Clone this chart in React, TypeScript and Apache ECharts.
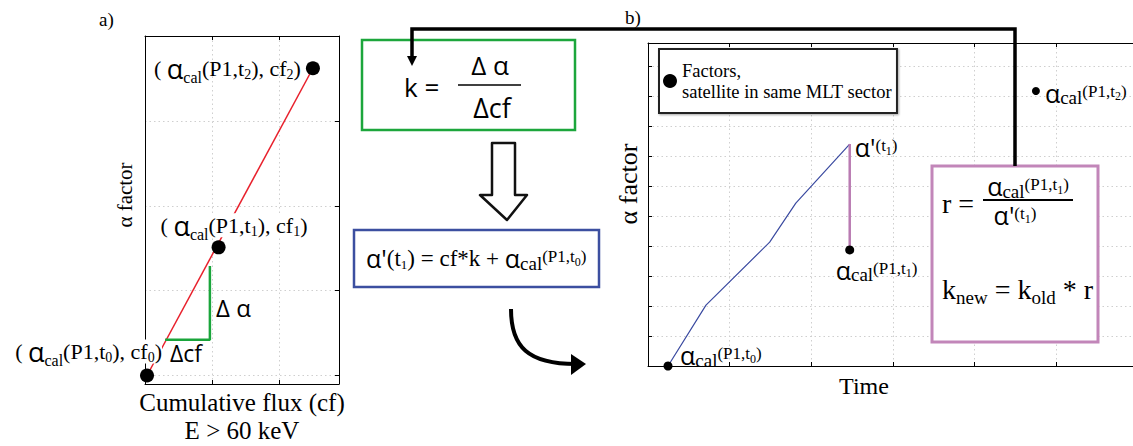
import React, { useEffect, useRef } from 'react';
import * as echarts from 'echarts';

const SERIF = "'Liberation Serif', 'Times New Roman', serif";
const SANS = "'Open Sans', 'DejaVu Sans', sans-serif";

// ---------- Panel a) : alpha factor vs cumulative flux ----------
const cfValues = [0.03, 1.1, 2.51];
const alphaValues = [0, 1.51, 3.62];
const deltaCf = [0.3, 0.97, 0.97];
const deltaAlpha = [0.42, 0.42, 1.29];
const leftXRange = [0, 2.9];
const leftYRange = [-0.1, 4];
const leftPointLabels = [
  '{M|( }{A|α}{C|cal}{M|(P1,t}{D|0}{M|), cf}{D|0}{M|)}',
  '{M|( }{A|α}{C|cal}{M|(P1,t}{D|1}{M|), cf}{D|1}{M|)}',
  '{M|( }{A|α}{C|cal}{M|(P1,t}{D|2}{M|), cf}{D|2}{M|)}',
];
const leftLabelAlign = ['right', 'left', 'right'];
const leftLabelOffset = [[15, -24], [-58, -22], [-12, 0]];
const leftLabelBg = ['#fff', '#fff', 'transparent'];

// ---------- Panel b) : alpha factor vs time ----------
const timeValues = [0.245, 0.71, 1.49, 1.81, 2.47];
const alphaPrimeValues = [0, 2.03, 4.13, 5.43, 7.4];
const factorTimes = [0.245, 2.47, 4.75];
const factorAlpha = [0, 3.87, 9.17];
const factorSizes = [9, 9, 8];
const rightPointLabels = [
  '{A|α}{C|cal}{S|(P1,t}{E|0}{S|)}',
  '{A|α}{C|cal}{S|(P1,t}{E|1}{S|)}',
  '{A|α}{C|cal}{S|(P1,t}{E|2}{S|)}',
];
const rightLabelOffset = [[12, -11], [-14, 20], [9, 2]];
const alphaPrimeLabel = '{A|α\'}{S|(t}{E|1}{S|)}';
const rightXRange = [0, 6];
const rightYRange = [0, 10.77];
const legendName = 'Factors,\nsatellite in same MLT sector';

function tok(fontFamily: string, fontSize: number, lh: number, shift = 0) {
  const s: any = { fontFamily, fontSize, lineHeight: lh, color: '#000', fill: '#000' };
  if (shift > 0) s.padding = [shift * 2, 0, 0, 0];
  else if (shift < 0) s.padding = [0, 0, -shift * 2, 0];
  return s;
}

const leftRich = {
  M: tok(SERIF, 22, 24),
  A: tok(SANS, 27, 24),
  C: tok(SERIF, 16, 24, 9),
  D: tok(SERIF, 14, 24, 6),
};
const rightRich = {
  A: tok(SANS, 25, 30),
  C: tok(SERIF, 19, 30, 5),
  S: tok(SERIF, 17, 30, -1.5),
  E: tok(SERIF, 12, 30, 3.5),
  M: tok(SERIF, 23, 30),
  D: tok(SERIF, 13, 30, 6),
};
const kRich = {
  K: tok(SERIF, 28, 34),
  N: tok(SERIF, 19, 34, 8),
};

const dotted = { show: true, lineStyle: { color: '#cfcfcf', type: [1.5, 3] as any, width: 1 } };
const axisLine = { show: true, onZero: false, lineStyle: { color: '#000', width: 1 } };
const tickIn = { show: true, inside: true, length: 4, lineStyle: { color: '#000', width: 1 } };
const noTick = { show: false };

export default function App() {
  const ref = useRef<HTMLDivElement>(null);
  useEffect(() => {
    if (!ref.current) return;
    const chart = echarts.init(ref.current, null, { renderer: 'svg' });

    const graphic: any[] = [
      { type: 'text', x: 99, y: 19, z: 100, style: { text: 'a)', fontFamily: SERIF, fontSize: 19, fill: '#000', verticalAlign: 'middle' } },
      { type: 'text', x: 625, y: 17, z: 100, style: { text: 'b)', fontFamily: SERIF, fontSize: 19, fill: '#000', verticalAlign: 'middle' } },
      { type: 'text', x: 125, y: 195, rotation: Math.PI / 2, z: 100, style: { text: 'α factor', fontFamily: SERIF, fontSize: 21, fill: '#000', align: 'center', verticalAlign: 'middle' } },
      { type: 'text', x: 628, y: 184, rotation: Math.PI / 2, z: 100, style: { text: 'α factor', fontFamily: SERIF, fontSize: 26, fill: '#000', align: 'center', verticalAlign: 'middle' } },
      { type: 'text', x: 864, y: 386, z: 100, style: { text: 'Time', fontFamily: SERIF, fontSize: 24, fill: '#000', align: 'center', verticalAlign: 'middle' } },
      // delta labels in panel a
      { type: 'text', x: 216, y: 307, z: 100, style: { text: 'Δ α', fontFamily: SANS, fontSize: 24, fill: '#000', verticalAlign: 'middle' } },
      { type: 'text', x: 170, y: 353, z: 100, style: { text: 'Δcf', fontFamily: SANS, fontSize: 23, fill: '#000', verticalAlign: 'middle' } },
      // green box
      { type: 'rect', z: 100, shape: { x: 362, y: 40, width: 213, height: 90 }, style: { fill: '#fff', stroke: '#1ca63c', lineWidth: 2.5 } },
      { type: 'text', x: 404, y: 87, z: 101, style: { text: 'k =', fontFamily: SANS, fontSize: 26, fill: '#000', verticalAlign: 'middle' } },
      { type: 'text', x: 490, y: 65, z: 101, style: { text: 'Δ α', fontFamily: SANS, fontSize: 26, fill: '#000', align: 'center', verticalAlign: 'middle' } },
      { type: 'line', z: 101, shape: { x1: 458, y1: 85, x2: 521, y2: 85 }, style: { stroke: '#000', lineWidth: 1.5 } },
      { type: 'text', x: 492, y: 107, z: 101, style: { text: 'Δcf', fontFamily: SANS, fontSize: 27, fill: '#000', align: 'center', verticalAlign: 'middle' } },
      // hollow arrow
      { type: 'polygon', z: 100, shape: { points: [[492, 143], [515, 143], [515, 195], [527, 195], [507, 220], [480, 195], [492, 195]] }, style: { fill: '#fff', stroke: '#111', lineWidth: 2.5, lineJoin: 'round' } },
      // blue box
      { type: 'rect', z: 100, shape: { x: 354, y: 230, width: 245, height: 57 }, style: { fill: '#fff', stroke: '#3c4fa0', lineWidth: 2.5 } },
      { type: 'text', x: 366, y: 258, z: 101, style: { text: "{A|α'}{M|(t}{D|1}{M|) = cf*k + }{A|α}{C|cal}{S|(P1,t}{E|0}{S|)}", rich: rightRich, verticalAlign: 'middle' } },
      // curved arrow
      { type: 'bezierCurve', z: 100, shape: { x1: 511, y1: 309, cpx1: 511, cpy1: 347, cpx2: 528, cpy2: 364, x2: 576, y2: 364 }, style: { stroke: '#000', lineWidth: 4, fill: null } },
      { type: 'polygon', z: 100, shape: { points: [[571, 354], [586, 364], [571, 375]] }, style: { fill: '#000' } },
      // purple box
      { type: 'rect', z: 100, shape: { x: 932, y: 166, width: 166, height: 176 }, style: { fill: '#fff', stroke: '#c286b9', lineWidth: 3 } },
      { type: 'text', x: 942, y: 203, z: 101, style: { text: 'r =', fontFamily: SERIF, fontSize: 28, fill: '#000', verticalAlign: 'middle' } },
      { type: 'text', x: 1028, y: 186, z: 101, style: { text: '{A|α}{C|cal}{S|(P1,t}{E|1}{S|)}', rich: rightRich, align: 'center', verticalAlign: 'middle' } },
      { type: 'line', z: 101, shape: { x1: 983, y1: 200, x2: 1073, y2: 200 }, style: { stroke: '#000', lineWidth: 2 } },
      { type: 'text', x: 1015, y: 215, z: 101, style: { text: alphaPrimeLabel, rich: rightRich, align: 'center', verticalAlign: 'middle' } },
      { type: 'text', x: 942, y: 289, z: 101, style: { text: '{K|k}{N|new}{K| = k}{N|old}{K| * r}', rich: kRich, verticalAlign: 'middle' } },
      // connector
      { type: 'polyline', z: 102, shape: { points: [[1015, 166], [1015, 29], [412, 29], [412, 57]] }, style: { stroke: '#000', lineWidth: 3.5, fill: null } },
      { type: 'polygon', z: 102, shape: { points: [[407, 56], [417, 56], [412, 66]] }, style: { fill: '#000' } },
    ];

    const option: any = {
      animation: false,
      backgroundColor: '#fff',
      grid: [
        { left: 145, top: 36, width: 194, height: 348, outerBoundsMode: 'none' },
        { left: 648, top: 43, width: 490, height: 323, outerBoundsMode: 'none' },
      ],
      legend: {
        show: true,
        left: 659,
        top: 49,
        orient: 'vertical',
        data: [{ name: legendName, icon: 'circle' }],
        itemWidth: 14,
        itemHeight: 14,
        padding: [11, 5, 11, 4],
        backgroundColor: '#fff',
        borderColor: '#222',
        borderWidth: 2,
        shadowColor: 'rgba(0,0,0,0.35)',
        shadowBlur: 2,
        shadowOffsetX: 1,
        shadowOffsetY: 1,
        selectedMode: false,
        textStyle: { fontFamily: SERIF, fontSize: 18.5, lineHeight: 21, color: '#000' },
      },
      xAxis: [
        {
          gridIndex: 0, type: 'value', position: 'bottom', min: leftXRange[0], max: leftXRange[1], interval: 1,
          axisLine, axisTick: tickIn, axisLabel: { show: false }, splitLine: dotted,
          name: 'Cumulative flux (cf)\nE > 60 keV', nameLocation: 'middle', nameGap: 4,
          nameTextStyle: { fontFamily: SERIF, fontSize: 25, lineHeight: 28, color: '#000', verticalAlign: 'top' },
        },
        {
          gridIndex: 0, type: 'value', position: 'top', min: leftXRange[0], max: leftXRange[1], interval: 1,
          axisLine, axisTick: tickIn, axisLabel: { show: false }, splitLine: { show: false },
        },
        {
          gridIndex: 1, type: 'value', position: 'bottom', min: rightXRange[0], max: rightXRange[1], interval: 1,
          axisLine, axisTick: tickIn, axisLabel: { show: false }, splitLine: dotted,
        },
        {
          gridIndex: 1, type: 'value', position: 'top', min: rightXRange[0], max: rightXRange[1], interval: 1,
          axisLine, axisTick: tickIn, axisLabel: { show: false }, splitLine: { show: false },
        },
      ],
      yAxis: [
        {
          gridIndex: 0, type: 'value', position: 'left', min: leftYRange[0], max: leftYRange[1],
          splitNumber: 4, minInterval: 1, maxInterval: 1,
          axisLine, axisTick: noTick, axisLabel: { show: false }, splitLine: dotted,
        },
        {
          gridIndex: 0, type: 'value', position: 'right', min: leftYRange[0], max: leftYRange[1],
          splitNumber: 4, minInterval: 1, maxInterval: 1,
          axisLine, axisTick: tickIn, axisLabel: { show: false }, splitLine: { show: false },
        },
        {
          gridIndex: 1, type: 'value', position: 'left', min: rightYRange[0], max: rightYRange[1], interval: 1,
          axisLine, axisTick: tickIn, axisLabel: { show: false }, splitLine: dotted,
        },
      ],
      series: [
        {
          type: 'line', xAxisIndex: 0, yAxisIndex: 0, z: 2, symbol: 'none', silent: true,
          data: [[cfValues[0], alphaValues[0]], [cfValues[2], alphaValues[2]]],
          lineStyle: { color: '#e8202c', width: 1.5 },
        },
        {
          type: 'line', xAxisIndex: 0, yAxisIndex: 0, z: 2, symbol: 'none', silent: true,
          data: deltaCf.map((x, i) => [x, deltaAlpha[i]]),
          lineStyle: { color: '#1aa53b', width: 2.5 },
        },
        {
          type: 'scatter', xAxisIndex: 0, yAxisIndex: 0, z: 3, symbolSize: 14, silent: true,
          itemStyle: { color: '#000', opacity: 1 },
          data: cfValues.map((x, i) => ({
            value: [x, alphaValues[i]],
            label: {
              show: true, position: 'inside', align: leftLabelAlign[i], verticalAlign: 'middle',
              offset: leftLabelOffset[i], formatter: leftPointLabels[i], rich: leftRich,
              backgroundColor: leftLabelBg[i], color: '#000', opacity: 1,
            },
          })),
        },
        {
          type: 'line', xAxisIndex: 2, yAxisIndex: 2, z: 2, symbol: 'none', silent: true,
          data: timeValues.map((x, i) => [x, alphaPrimeValues[i]]),
          lineStyle: { color: '#3a4aa0', width: 1.2 },
        },
        {
          type: 'line', xAxisIndex: 2, yAxisIndex: 2, z: 2, symbol: 'circle', symbolSize: 0, showSymbol: true, silent: true,
          itemStyle: { color: 'transparent' },
          data: [
            {
              value: [timeValues[timeValues.length - 1], alphaPrimeValues[alphaPrimeValues.length - 1]],
              label: {
                show: true, position: 'inside', align: 'left', verticalAlign: 'middle', offset: [5, 3],
                formatter: alphaPrimeLabel, rich: rightRich, color: '#000',
              },
            },
            { value: [factorTimes[1], factorAlpha[1]] },
          ],
          lineStyle: { color: '#b97bb2', width: 2.5 },
        },
        {
          type: 'scatter', name: legendName, xAxisIndex: 2, yAxisIndex: 2, z: 3, silent: true,
          itemStyle: { color: '#000', opacity: 1 },
          data: factorTimes.map((x, i) => ({
            value: [x, factorAlpha[i]],
            symbolSize: factorSizes[i],
            label: {
              show: true, position: 'inside', align: 'left', verticalAlign: 'middle',
              offset: rightLabelOffset[i], formatter: rightPointLabels[i], rich: rightRich, color: '#000', opacity: 1,
            },
          })),
        },
      ],
      graphic,
    };

    chart.setOption(option);
    return () => chart.dispose();
  }, []);

  return (
    <div
      ref={ref}
      style={{ position: 'fixed', left: 0, top: 0, width: 1133, height: 446, background: '#fff' }}
    />
  );
}
